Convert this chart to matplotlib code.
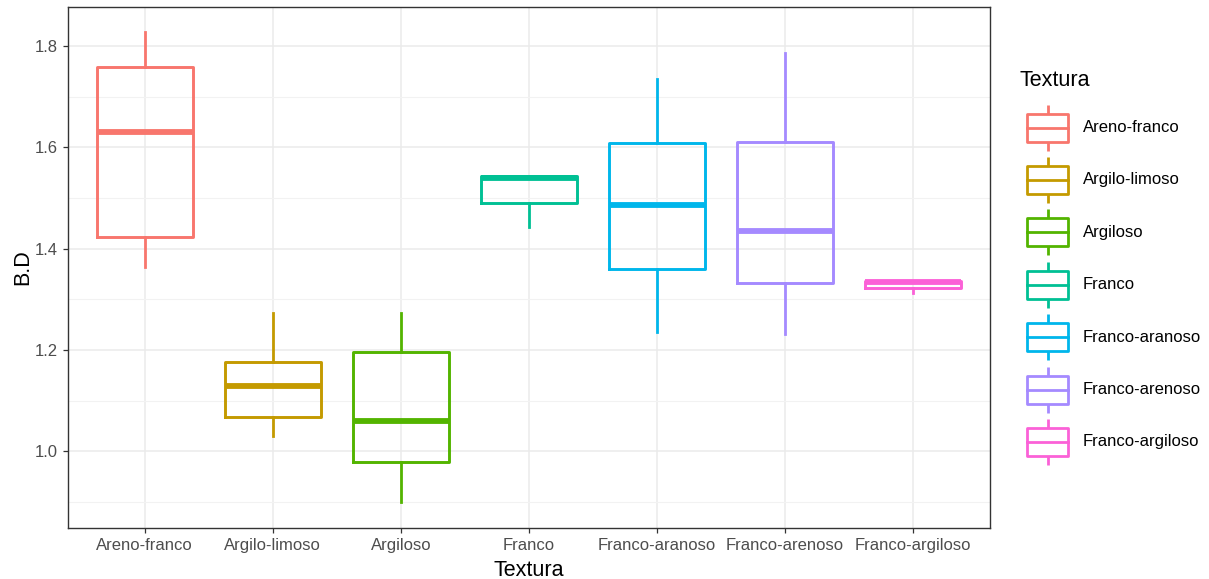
import matplotlib
matplotlib.use("Agg")
import matplotlib.pyplot as plt
from matplotlib.patches import Rectangle
from matplotlib.ticker import MultipleLocator

plt.rcParams["font.family"] = ["Liberation Sans", "DejaVu Sans"]

# Bulk density (B.D) summary per soil texture class
categories = ["Areno-franco", "Argilo-limoso", "Argiloso", "Franco",
              "Franco-aranoso", "Franco-arenoso", "Franco-argiloso"]
whisker_low = [1.364, 1.031, 0.900, 1.442, 1.236, 1.232, 1.313]
quartile1 = [1.423, 1.068, 0.980, 1.491, 1.360, 1.332, 1.323]
median = [1.630, 1.129, 1.060, 1.540, 1.486, 1.435, 1.335]
quartile3 = [1.759, 1.177, 1.196, 1.543, 1.609, 1.611, 1.337]
whisker_high = [1.828, 1.274, 1.274, 1.543, 1.734, 1.786, 1.337]
colors = ["#F8766D", "#C49A00", "#53B400", "#00C094",
          "#00B6EB", "#A58AFF", "#FB61D7"]
y_ticks = [1.0, 1.2, 1.4, 1.6, 1.8]

W, H = 1209, 579
fig = plt.figure(figsize=(W / 100, H / 100), dpi=100)
fig.patch.set_facecolor("white")

# main panel, placed in pixel units
L, R, T, B = 68, 990, 7, 528
ax = fig.add_axes([L / W, 1 - B / H, (R - L) / W, (B - T) / H])

positions = list(range(1, len(categories) + 1))
stats = [dict(med=m, q1=a, q3=b, whislo=lo, whishi=hi, fliers=[], label=c)
         for c, lo, a, m, b, hi in zip(categories, whisker_low, quartile1,
                                        median, quartile3, whisker_high)]
art = ax.bxp(stats, positions=positions, widths=0.75, showcaps=False,
             showfliers=False, patch_artist=False,
             boxprops=dict(linewidth=2.1),
             whiskerprops=dict(linewidth=2.0),
             medianprops=dict(linewidth=4.2, solid_capstyle="butt"))
for i, col in enumerate(colors):
    art["boxes"][i].set_color(col)
    art["boxes"][i].set_zorder(3)
    art["medians"][i].set_color(col)
    art["medians"][i].set_zorder(3)
    for w in art["whiskers"][2 * i:2 * i + 2]:
        w.set_color(col)
        w.set_zorder(3)

ax.set_xlim(0.4, len(categories) + 0.6)
ax.set_ylim(0.849, 1.877)
ax.set_xticks(positions)
ax.set_xticklabels(categories)
ax.set_yticks(y_ticks)
ax.set_yticklabels([f"{v:.1f}" for v in y_ticks])
ax.yaxis.set_minor_locator(MultipleLocator(0.1))

ax.grid(True, which="major", color="#EBEBEB", linewidth=1.1, zorder=0)
ax.grid(True, which="minor", axis="y", color="#F2F2F2", linewidth=0.8, zorder=0)
ax.set_axisbelow(True)
for s in ax.spines.values():
    s.set_color("#333333")
    s.set_linewidth(1.0)
ax.tick_params(axis="both", which="major", colors="#333333", length=3.5,
               width=0.9, labelsize=12, labelcolor="#4D4D4D", pad=4)
ax.tick_params(axis="y", which="minor", length=0)

ax.set_xlabel("Textura", fontsize=15.5, color="black", labelpad=5)
ax.set_ylabel("B.D", fontsize=15.5, color="black", labelpad=1)

# legend drawn in pixel space on the right
lax = fig.add_axes([1000 / W, 0, (W - 1000) / W, 1])
lax.set_xlim(1000, W)
lax.set_ylim(H, 0)
lax.axis("off")
lax.text(1020, 80, "Textura", fontsize=15.5, va="center", ha="left", color="black")
for i, (name, col) in enumerate(zip(categories, colors)):
    cy = 127.5 + i * 52.4
    lax.plot([1047.5, 1047.5], [cy - 23, cy + 23], color=col, lw=2.0,
             solid_capstyle="butt", zorder=2)
    lax.add_patch(Rectangle((1027, cy - 14), 41, 28, facecolor="white",
                            edgecolor=col, lw=2.0, zorder=3, joinstyle="round"))
    lax.plot([1027, 1068], [cy, cy], color=col, lw=2.0, zorder=4)
    lax.text(1083, cy, name, fontsize=12, va="center", ha="left", color="black")

fig.savefig("out.png", dpi=100, facecolor="white")
